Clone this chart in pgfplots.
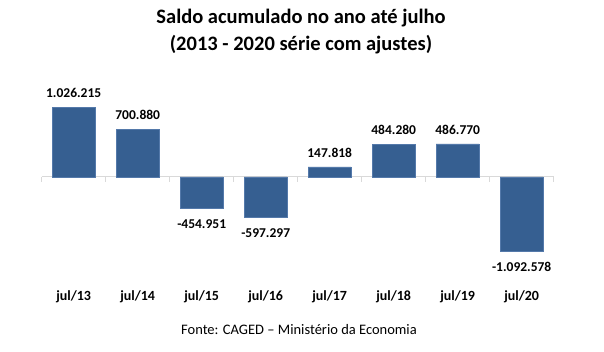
\documentclass[border=0pt]{standalone}
\usepackage{fontspec}
\setmainfont{Carlito}
\usepackage{pgfplots}
\pgfplotsset{compat=1.18}
\definecolor{barblue}{HTML}{365F91}
\definecolor{baredge}{HTML}{5479AA}
\definecolor{zline}{HTML}{D9D9D9}
\begin{document}
\begin{tikzpicture}[x=1pt,y=1pt]
\path[use as bounding box] (0,0) rectangle (604,352);
\node[font=\fontsize{20.5}{24}\selectfont\bfseries] at (301,334) {Saldo acumulado no ano até julho};
\node[font=\fontsize{20.5}{24}\selectfont\bfseries] at (301,307) {(2013 - 2020 série com ajustes)};
\node[font=\fontsize{14.5}{17}\selectfont] at (299,22) {Fonte: CAGED – Ministério da Economia};
\begin{axis}[
  at={(41.7pt,73pt)}, anchor=south west,
  scale only axis, width=512pt, height=204pt,
  xmin=-0.5, xmax=7.5, ymin=-1500000, ymax=1500000,
  axis line style={draw=none},
  clip=false,
  ybar, bar width=43pt, bar shift=0pt,
  xtick={0,...,7},
  xticklabels={jul/13,jul/14,jul/15,jul/16,jul/17,jul/18,jul/19,jul/20},
  xticklabel style={font=\fontsize{14}{16}\selectfont\bfseries, anchor=center, inner sep=0pt, yshift=-18pt},
  major tick length=0pt, xtick style={draw=none},
  ytick=\empty,
  /pgf/number format/.cd, fixed, precision=0, 1000 sep={.}, assume math mode=true,
]
\addplot[draw=zline, line width=1pt, sharp plot] coordinates {(-0.5,0) (7.5,0)};
\pgfplotsinvokeforeach{-0.5,0.5,1.5,2.5,3.5,4.5,5.5,6.5,7.5}{
  \draw[zline, line width=1pt] (axis cs:#1,0) -- (axis cs:#1,-75000);
}
\addplot[fill=barblue, draw=baredge, line width=0.6pt,
  nodes near coords, every node near coord/.style={font=\fontsize{13.5}{16}\selectfont\bfseries, black, anchor=south, inner sep=0pt, yshift=9pt}]
  coordinates {(0,1026215) (1,700880) (4,147818) (5,484280) (6,486770)};
\addplot[fill=barblue, draw=baredge, line width=0.6pt,
  nodes near coords, every node near coord/.style={font=\fontsize{13.5}{16}\selectfont\bfseries, black, anchor=north, inner sep=0pt, yshift=-11pt}]
  coordinates {(2,-454951) (3,-597297) (7,-1092578)};
\end{axis}
\end{tikzpicture}
\end{document}
